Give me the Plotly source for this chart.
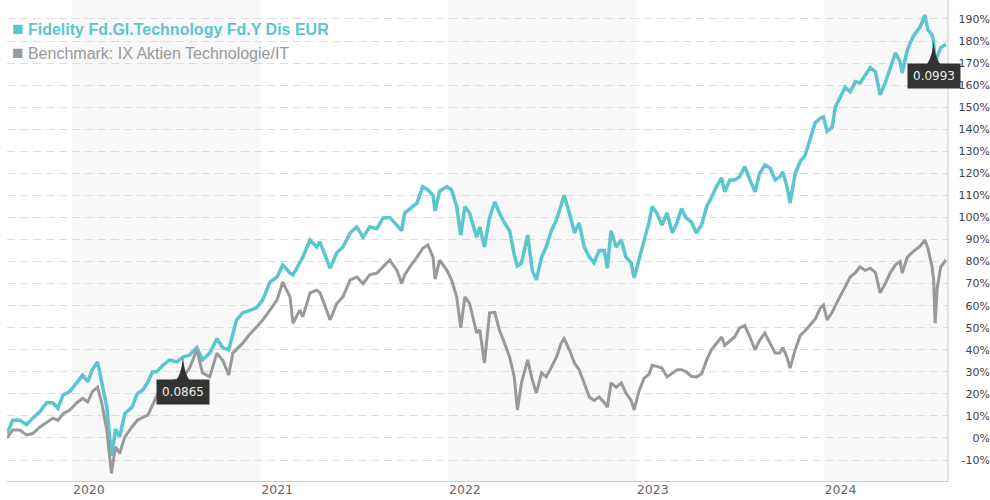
import plotly.graph_objects as go

# ---------------- data ----------------
dates = [
    "2019-08-28", "2019-09-08", "2019-09-22", "2019-10-05", "2019-10-17", "2019-10-31",
    "2019-11-13", "2019-11-25", "2019-12-05", "2019-12-15", "2019-12-28",
    "2020-01-11", "2020-01-22", "2020-02-01", "2020-02-10", "2020-02-20", "2020-02-28",
    "2020-03-09", "2020-03-18", "2020-03-26", "2020-04-03", "2020-04-13", "2020-04-27",
    "2020-05-07", "2020-05-19", "2020-05-28", "2020-06-06", "2020-06-14", "2020-06-26",
    "2020-07-09", "2020-07-23", "2020-08-04", "2020-08-17", "2020-08-31", "2020-09-11",
    "2020-09-25", "2020-10-09", "2020-10-20", "2020-11-01", "2020-11-09", "2020-11-16",
    "2020-11-28", "2020-12-12", "2020-12-25",
    "2021-01-06", "2021-01-20", "2021-02-03", "2021-02-14", "2021-02-28", "2021-03-06",
    "2021-03-19", "2021-03-25", "2021-04-08", "2021-04-21", "2021-04-27", "2021-05-07",
    "2021-05-17", "2021-05-30", "2021-06-11", "2021-06-25", "2021-07-08", "2021-07-20",
    "2021-08-02", "2021-08-16", "2021-08-28", "2021-09-10", "2021-09-24", "2021-10-03",
    "2021-10-09", "2021-10-19", "2021-11-02", "2021-11-13", "2021-11-23", "2021-12-03",
    "2021-12-07", "2021-12-16", "2021-12-30",
    "2022-01-08", "2022-01-18", "2022-01-26", "2022-02-03", "2022-02-12", "2022-02-26",
    "2022-03-04", "2022-03-13", "2022-03-23", "2022-04-02", "2022-04-11", "2022-04-21",
    "2022-05-01", "2022-05-10", "2022-05-16", "2022-05-24", "2022-06-05", "2022-06-14",
    "2022-06-22", "2022-07-02", "2022-07-11", "2022-07-21", "2022-07-31", "2022-08-09",
    "2022-08-15", "2022-08-25", "2022-09-04", "2022-09-13", "2022-09-23", "2022-10-03",
    "2022-10-12", "2022-10-22", "2022-11-01", "2022-11-07", "2022-11-14", "2022-11-24",
    "2022-12-04", "2022-12-13", "2022-12-23", "2022-12-29",
    "2023-01-07", "2023-01-17", "2023-01-27", "2023-02-02", "2023-02-11", "2023-02-21",
    "2023-03-03", "2023-03-13", "2023-03-23", "2023-03-31", "2023-04-09", "2023-04-19",
    "2023-04-29", "2023-05-09", "2023-05-19", "2023-05-28", "2023-06-07", "2023-06-17",
    "2023-06-23", "2023-07-03", "2023-07-12", "2023-07-22", "2023-08-01", "2023-08-11",
    "2023-08-21", "2023-08-30", "2023-09-09", "2023-09-19", "2023-09-29", "2023-10-08",
    "2023-10-14", "2023-10-22", "2023-10-28", "2023-11-07", "2023-11-17", "2023-11-26",
    "2023-12-06", "2023-12-16", "2023-12-26",
    "2024-01-01", "2024-01-08", "2024-01-18", "2024-01-24", "2024-02-02", "2024-02-12",
    "2024-02-22", "2024-03-03", "2024-03-12", "2024-03-22", "2024-04-01", "2024-04-11",
    "2024-04-20", "2024-04-30", "2024-05-10", "2024-05-20", "2024-05-29", "2024-06-02",
    "2024-06-12", "2024-06-23", "2024-07-07", "2024-07-16", "2024-07-22", "2024-07-30",
    "2024-08-02", "2024-08-05", "2024-08-09", "2024-08-16", "2024-08-26",
]

fund = [
    2, 8, 8, 6, 9, 12,
    16, 16, 13.5, 19.5, 21,
    25, 28.5, 25.5, 31, 34.5, 25,
    14, -8, 4, 0.5, 11, 14,
    20, 22, 25.5, 30, 30, 33,
    35.4, 34.5, 36.7, 37.6, 41, 35.4,
    38.5, 45, 41, 40, 47, 53.5,
    56.7, 58, 59,
    62.6, 70.7, 73, 78.5, 74.8, 74,
    79.4, 82, 89.8, 86.6, 89, 83,
    77, 84, 86.6, 93, 95.7, 91,
    95.7, 95, 99.8, 100, 96.6, 94,
    102, 104, 106.6, 114, 112.5, 110,
    103, 112, 114,
    112.5, 105, 92, 105, 102, 91,
    95.7, 86.6, 100, 107, 102, 97.5,
    94, 83, 78, 79.4, 92, 76,
    71.7, 82, 86.6, 94, 98.9, 105,
    110, 102, 93, 97.5, 86.6, 82,
    79.4, 85, 85, 77, 94, 86.6,
    89.8, 82, 79.4, 72.6,
    80.7, 89.8, 98, 105, 102, 96.6,
    102, 93, 98, 104, 99.8, 98,
    93, 96.6, 105, 109, 114, 118,
    111.6, 117, 117, 118.4, 123, 117,
    111.6, 120, 123.8, 122.4, 117, 118.4,
    120.6, 114, 106.6, 120, 125.5, 128,
    136, 143, 145,
    145.6, 139, 141, 150, 154.6, 159,
    157, 161.6, 161, 164.6, 168, 166,
    155.6, 161, 167.8, 174.6, 170.5, 165.5,
    176, 182, 186.4, 191.8, 185, 182.8,
    180, 168, 173, 177, 178.5,
]

benchmark = [
    0, 3.6, 3.6, 1.4, 2, 5,
    7, 9, 8, 11, 12.7,
    16, 18, 16.3, 21, 23, 16,
    3.6, -16, -4, -7, 0.5, 5,
    8, 9.5, 10.4, 15, 19, 24,
    25, 26.3, 27.7, 31.7, 40, 29.5,
    27.7, 38.5, 35.4, 28.6, 38.5, 40,
    43, 47, 50.5,
    53.5, 58, 62.6, 70.7, 64, 52,
    58, 55, 65.8, 67, 66, 60,
    53.5, 61, 64, 71.7, 73, 70,
    74, 74.8, 77.6, 80.7, 76, 70,
    74, 77.6, 82, 86, 87.5, 82,
    72, 80.7, 76,
    71.7, 64, 50, 64, 61, 47.6,
    49, 34, 56.7, 57, 49, 43,
    36.7, 27.7, 12.7, 25, 35.4, 26.3,
    20.4, 29.5, 27.7, 32, 36.7, 43,
    45, 40, 34, 31, 25, 18.6,
    17, 18.6, 16, 14, 25, 23,
    25, 20.4, 17, 12.7,
    21, 27, 29, 33, 32.5, 31.7,
    27.7, 29.5, 31, 31, 30, 28,
    27.7, 29, 35.4, 40, 43, 45.8,
    42, 44, 45.8, 49.9, 51, 45.8,
    40, 44.4, 47.6, 43, 38.5, 38.5,
    41, 36.7, 31.7, 40, 46.5, 48.5,
    51.5, 54, 59,
    60.3, 53.5, 57, 60, 64, 69,
    73, 75, 77.6, 76, 77, 75,
    65.8, 70, 75, 78.5, 80, 74.8,
    82, 84.5, 87, 89.8, 86, 77.6,
    72, 52, 68, 77.6, 80.7,
]

fund_name = "Fidelity Fd.Gl.Technology Fd.Y Dis EUR"
bench_name = "Benchmark: IX Aktien Technologie/IT"

dividend_dates = ["2020-08-04", "2024-08-02"]
dividend_labels = ["0.0865", "0.0993"]

year_starts = ["2020-01-01", "2021-01-01", "2022-01-01", "2023-01-01", "2024-01-01"]
year_labels = ["2020", "2021", "2022", "2023", "2024"]
shaded_years = [("2020-01-01", "2021-01-01"), ("2022-01-01", "2023-01-01"), ("2024-01-01", "2025-01-01")]

y_ticks = list(range(-10, 200, 10))
y_tick_labels = [f"{v}%" for v in y_ticks]
x_range = ["2019-08-28", "2024-08-30"]
y_range = [-19.5, 198.6]

# ---------------- styling ----------------
TEAL = "#5bc6cd"
GRAY = "#999999"
CLEAR = "rgba(0,0,0,0)"

fig = go.Figure()

fig.add_trace(go.Scatter(x=dates, y=fund, mode="lines", name=fund_name,
                         line=dict(color=TEAL, width=3.5), showlegend=False,
                         hoverinfo="skip"))
fig.add_trace(go.Scatter(x=dates, y=benchmark, mode="lines", name=bench_name,
                         line=dict(color=GRAY, width=3), showlegend=False,
                         hoverinfo="skip"))

# legend entries (square drawn as text glyph so the spacing matches)
SQ = "<span style='font-size:19px'>■</span>"
fig.add_trace(go.Scatter(x=[None], y=[None], mode="markers",
                         name=f"<span style='color:{TEAL}'><b>{SQ} {fund_name}</b></span>",
                         marker=dict(size=1, color=CLEAR, line=dict(width=0))))
fig.add_trace(go.Scatter(x=[None], y=[None], mode="markers",
                         name=f"<span style='color:{GRAY}'>{SQ} {bench_name}</span>",
                         marker=dict(size=1, color=CLEAR, line=dict(width=0))))

shapes = []
for x0, x1 in shaded_years:
    shapes.append(dict(type="rect", xref="x", yref="y domain", x0=x0, x1=x1, y0=0, y1=1,
                       fillcolor="#f8f8f8", line=dict(width=0), layer="below"))
shapes.append(dict(type="line", xref="x domain", yref="y domain", x0=1, x1=1, y0=0, y1=1,
                   line=dict(color="#cccccc", width=1)))

annotations = []
fund_by_date = dict(zip(dates, fund))
for d, lab in zip(dividend_dates, dividend_labels):
    yv = fund_by_date[d]
    shapes.append(dict(type="path", xref="x", yref="y", xsizemode="pixel", ysizemode="pixel",
                       xanchor=d, yanchor=yv,
                       path="M0,0 C1,-9 2,-16 7,-24 L-7,-24 C-2,-16 -1,-9 0,0 Z",
                       fillcolor="#333333", line=dict(width=0), layer="above"))
    annotations.append(dict(x=d, y=yv, xref="x", yref="y", text=lab, showarrow=False,
                            yshift=-35, bgcolor="#333333", borderpad=5,
                            font=dict(family="DejaVu Sans", size=12, color="#eeeeee")))

fig.update_layout(
    width=990, height=500,
    margin=dict(l=7, r=0, t=0, b=19, autoexpand=False),
    paper_bgcolor="white", plot_bgcolor=CLEAR,
    shapes=shapes, annotations=annotations,
    legend=dict(x=-35 / 983, y=1 - 12 / 481, xanchor="left", yanchor="top",
                bgcolor=CLEAR,
                font=dict(family="Liberation Sans", size=16), itemwidth=30,
                tracegroupgap=0),
    xaxis=dict(type="date", range=x_range, domain=[0, 941 / 983],
               tickvals=year_starts, ticktext=year_labels, ticklabelshift=17,
               ticklabelstandoff=-3,
               showgrid=False, zeroline=False, showline=True, linecolor="#cccccc",
               ticks="", tickfont=dict(family="DejaVu Sans", size=12.5, color="#666666")),
    yaxis=dict(range=y_range, tickvals=y_ticks, ticktext=y_tick_labels,
               anchor="free", position=1,
               side="left", showgrid=True, gridcolor="#dddddd", griddash="8px,5px",
               gridwidth=1, zeroline=False, showline=False, ticks="",
               tickfont=dict(family="DejaVu Sans", size=11, color="#444444")),
    hovermode=False,
)

fig.write_html("out.html", config={"displayModeBar": False},
               post_script="document.body.style.margin='0';")
